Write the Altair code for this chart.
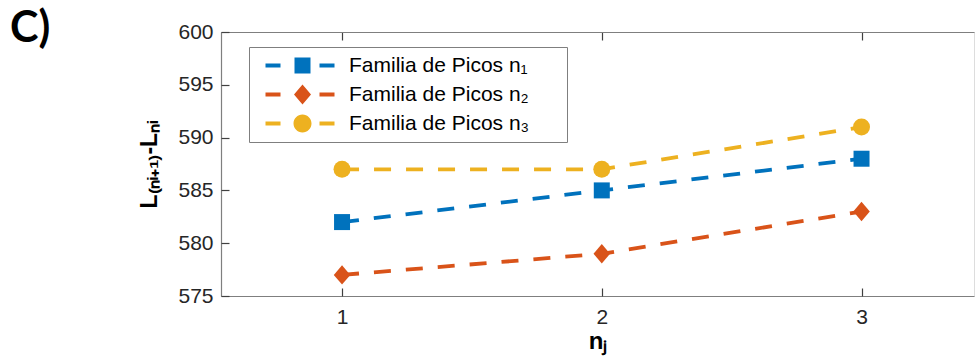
import altair as alt
import pandas as pd

# ---- data ----
x_vals = [1, 2, 3]
n1_vals = [582, 585, 588]
n2_vals = [577, 579, 583]
n3_vals = [587, 587, 591]
series_names = ["Familia de Picos n\u2081", "Familia de Picos n\u2082", "Familia de Picos n\u2083"]
colors = ["#0072BD", "#D95319", "#EDB120"]
x_ticks = [1, 2, 3]
y_ticks = [575, 580, 585, 590, 595, 600]

rows = []
for name, vals in zip(series_names, [n1_vals, n2_vals, n3_vals]):
    for x, v in zip(x_vals, vals):
        rows.append({"n": x, "L": v, "serie": name})
df = pd.DataFrame(rows)

FONT = "Liberation Sans"
TXT = "#262626"
TICK = "#404040"
BOX = "#7f7f7f"

xs = alt.Scale(domain=[0.534, 3.433], nice=False, zero=False)
ys = alt.Scale(domain=[575, 600], nice=False, zero=False)


def cscale():
    return alt.Scale(domain=series_names, range=colors)


# plot markers
diamond_path = "M 0 -1.18 L 1 0 L 0 1.18 L -1 0 Z"

# legend symbols: line - marker - line, drawn in units of 10 px (symbol size 400)
def rect(x0, x1, h):
    return f"M {x0} {-h} L {x1} {-h} L {x1} {h} L {x0} {h} Z "

dash = rect(-0.2, 1.3, 0.2) + rect(5.2, 6.7, 0.2)
MC = 3.5  # marker centre
leg_square = dash + rect(MC - 0.8, MC + 0.8, 0.8)
leg_diamond = dash + f"M {MC} -1.0 L {MC + 0.85} 0 L {MC} 1.0 L {MC - 0.85} 0 Z"
leg_circle = dash + f"M {MC - 0.9} 0 A 0.9 0.9 0 1 0 {MC + 0.9} 0 A 0.9 0.9 0 1 0 {MC - 0.9} 0 Z"

base = alt.Chart(df)

# layer 1: dashed lines + labelled axes (left and bottom frame lines)
x_main = alt.X(
    "n:Q", scale=xs,
    axis=alt.Axis(values=x_ticks, format="d", domain=True, domainColor=BOX, domainWidth=1.2,
                  ticks=False, grid=False,
                  labelFont=FONT, labelFontSize=21, labelColor=TXT, labelPadding=10,
                  title="n\u2c7c", titleFont=FONT, titleFontSize=24, titleFontWeight="bold",
                  titleColor="#000000", titlePadding=2),
)
y_main = alt.Y(
    "L:Q", scale=ys,
    axis=alt.Axis(values=y_ticks, domain=True, domainColor=BOX, domainWidth=1.2,
                  ticks=False, grid=False,
                  labelFont=FONT, labelFontSize=21, labelColor=TXT, labelPadding=8,
                  title="L\u208d\u2099\u1d62\u208a\u2081\u208e-L\u2099\u1d62", titleFont=FONT,
                  titleFontSize=23, titleFontWeight="bold", titleColor="#000000",
                  titlePadding=16),
)
lines = base.mark_line(strokeWidth=3.8, strokeDash=[17, 15]).encode(
    x=x_main,
    y=y_main,
    color=alt.Color("serie:N", scale=cscale(), legend=None),
    detail="serie:N",
)

# layer 2: markers + inward ticks bottom/left
x_tick_b = alt.X(
    "n:Q", scale=xs,
    axis=alt.Axis(orient="bottom", values=x_ticks, offset=-8, tickSize=8, tickColor=TICK,
                  tickWidth=1.2, labels=False, domain=False, grid=False, title=None),
)
y_tick_l = alt.Y(
    "L:Q", scale=ys,
    axis=alt.Axis(orient="left", values=y_ticks, offset=-8, tickSize=8, tickColor=TICK,
                  tickWidth=1.2, labels=False, domain=False, grid=False, title=None),
)
points = base.mark_point(filled=True, opacity=1, strokeWidth=0).encode(
    x=x_tick_b,
    y=y_tick_l,
    color=alt.Color("serie:N", scale=cscale(), legend=None),
    shape=alt.Shape("serie:N", scale=alt.Scale(domain=series_names,
                                               range=["square", diamond_path, "circle"]),
                    legend=None),
    size=alt.Size("serie:N", scale=alt.Scale(domain=series_names, range=[256, 289, 324]),
                  legend=None),
)

# layer 3: legend source (no marks drawn) + inward ticks on top
x_tick_t = alt.X(
    "n:Q", scale=xs,
    axis=alt.Axis(orient="top", values=x_ticks, offset=-8, tickSize=8, tickColor=TICK,
                  tickWidth=1.2, labels=False, domain=False, grid=False, title=None),
)
legend_def = alt.Legend(
    title=None, orient="none", legendX=28, legendY=15,
    symbolSize=400, symbolStrokeWidth=0, symbolOpacity=1,
    labelFont=FONT, labelFontSize=21, labelColor="#000000", labelOffset=71,
    labelLimit=500,
    labelExpr="datum.label + '\u00a0\u00a0\u00a0\u00a0\u00a0\u200b'",
    padding=8, rowPadding=7,
    fillColor="#ffffff", strokeColor=BOX,
)
legend_layer = base.transform_filter("false").mark_point(filled=True, opacity=1, strokeWidth=0).encode(
    x=x_tick_t,
    y=alt.Y("L:Q", scale=ys, axis=None),
    color=alt.Color("serie:N", scale=cscale(), legend=legend_def),
    shape=alt.Shape("serie:N", scale=alt.Scale(domain=series_names,
                                               range=[leg_square, leg_diamond, leg_circle]),
                    legend=legend_def),
)

# layer 4: top frame line
x_top = alt.X(
    "n:Q", scale=xs,
    axis=alt.Axis(orient="top", values=x_ticks, ticks=False, labels=False, domain=True,
                  domainColor=BOX, domainWidth=1.2, grid=False, title=None),
)
frame_top = base.transform_filter("false").mark_point().encode(
    x=x_top,
    y=alt.Y("L:Q", scale=ys, axis=None),
)

chart = (
    alt.layer(lines, points, legend_layer, frame_top)
    .resolve_scale(color="independent", shape="independent", size="independent")
    .resolve_axis(x="independent", y="independent")
    .properties(
        width=753, height=264,
        autosize="none",
        padding={"left": 221, "top": 32, "right": 1, "bottom": 64},
        title=alt.TitleParams(text="C)", anchor="start", frame="group", font="Lato",
                              fontSize=43, fontWeight="bold", color="#000000",
                              dx=-211, dy=73, offset=0, baseline="bottom"),
    )
    .configure_view(strokeWidth=0)
    .configure(background="#ffffff")
)

chart.save("out.html", embed_options={"renderer": "svg", "actions": False})
